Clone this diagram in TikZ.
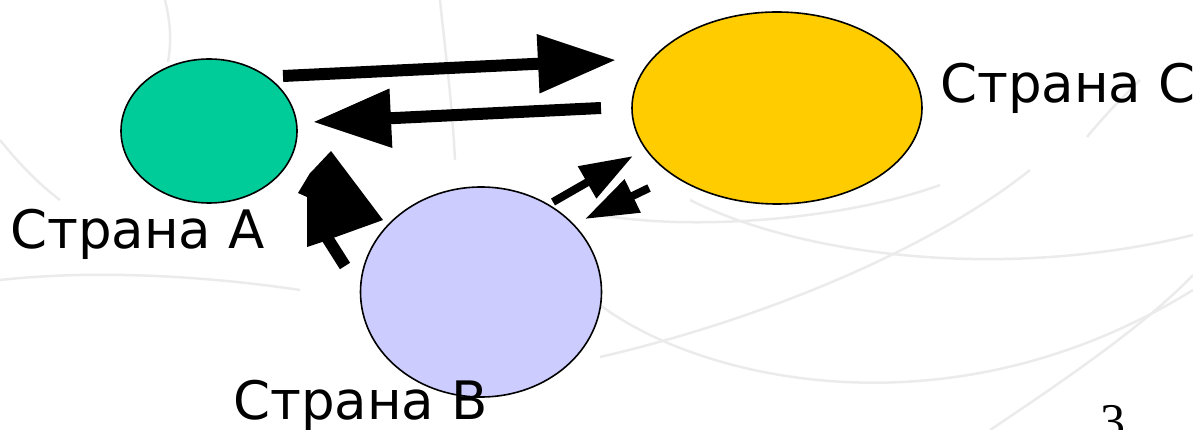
\documentclass[tikz,border=0pt]{standalone}
\usepackage{fontspec}
\setmainfont{DejaVu Sans}
\newfontfamily\numfont{Liberation Serif}
\usetikzlibrary{arrows.meta,shapes.geometric}
\begin{document}
\begin{tikzpicture}[x=1pt,y=-1pt,
  country/.style={ellipse,draw=black,line width=1.6pt,inner sep=0pt},
  lbl/.style={anchor=base west,inner sep=0pt,font=\fontsize{53}{60}\selectfont},
  bigarrow/.style={line width=12pt,-{Triangle[length=78pt,width=56pt]}},
  smallarrow/.style={line width=8pt,-{Triangle[length=53pt,width=35pt]}},
  bgarc/.style={draw=black!8,line width=2.5pt}]
\useasboundingbox (0,0) rectangle (1193,430);
\clip (0,0) rectangle (1193,430);
% faint background arcs
\draw[bgarc] (165,0) .. controls (170,20) and (172,40) .. (168,62);
\draw[bgarc] (0,140) .. controls (20,165) and (40,185) .. (60,200);
\draw[bgarc] (440,0) .. controls (445,50) and (452,100) .. (455,160);
\draw[bgarc] (0,280) .. controls (90,270) and (200,275) .. (300,290);
\draw[bgarc] (600,215) .. controls (700,232) and (850,218) .. (940,185);
\draw[bgarc] (600,357) .. controls (760,320) and (930,250) .. (1030,170);
\draw[bgarc] (690,200) .. controls (800,255) and (1000,282) .. (1193,235);
\draw[bgarc] (600,305) .. controls (700,380) and (950,440) .. (1193,290);
\draw[bgarc] (990,430) .. controls (1080,370) and (1150,320) .. (1193,275);
\draw[bgarc] (1087,137) .. controls (1105,115) and (1120,100) .. (1140,80);
% countries
\node[country,fill={rgb,255:red,0;green,204;blue,153},minimum width=176pt,minimum height=144pt] (A) at (209,131) {};
\node[country,fill={rgb,255:red,255;green,204;blue,0},minimum width=290pt,minimum height=192pt] (C) at (777,108) {};
\node[country,fill={rgb,255:red,204;green,204;blue,255},minimum width=241pt,minimum height=210pt] (B) at (481,292) {};
% labels
\node[lbl] (lA) at (10,249) {Страна A};
\node[lbl] (lC) at (940,103) {Страна C};
\node[lbl] (lB) at (233,419) {Страна B};
\node[anchor=base west,inner sep=0pt,font=\numfont\fontsize{50}{56}\selectfont] (pg) at (1100,438) {3};
% arrow end points
\coordinate (acS) at (283,76);
\coordinate (acE) at (616,60);
\coordinate (caS) at (601,108);
\coordinate (caE) at (313,122);
\coordinate (bcS) at (553,202);
\coordinate (bcE) at (633,156);
\coordinate (cbS) at (649,188);
\coordinate (cbE) at (585,219);
\coordinate (baS) at (345,266);
\coordinate (baM) at (326,236);
\coordinate (baE) at (331,151);
% connectors
\draw[bigarrow] (acS) -- (acE);
\draw[bigarrow] (caS) -- (caE);
\draw[smallarrow] (bcS) -- (bcE);
\draw[smallarrow] (cbS) -- (cbE);
\draw[line width=12pt] (baS) -- (baM);
\fill (baE) -- (383,220) -- (322,242) -- (307,247) -- (307,197) -- (298,193) -- (310,173) -- (315,168) -- cycle;
\end{tikzpicture}
\end{document}
